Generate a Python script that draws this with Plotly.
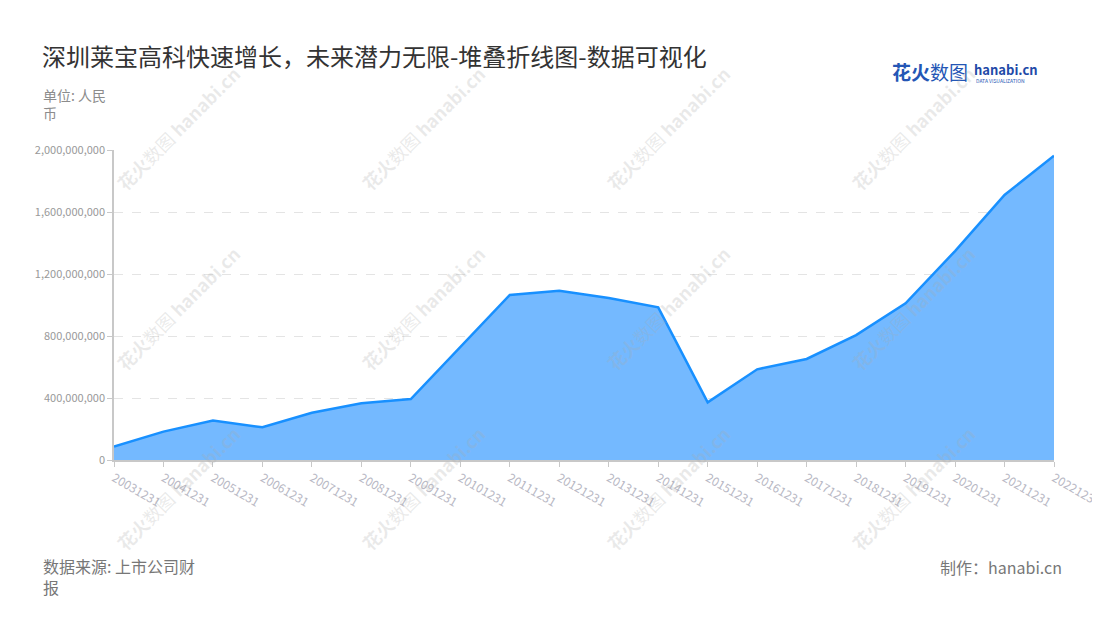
import plotly.graph_objects as go

# 年报日期 & 数值 (人民币)
dates = ['20031231', '20041231', '20051231', '20061231', '20071231',
         '20081231', '20091231', '20101231', '20111231', '20121231',
         '20131231', '20141231', '20151231', '20161231', '20171231',
         '20181231', '20191231', '20201231', '20211231', '20221231']
values = [86e6, 183e6, 254e6, 211e6, 305e6,
          366e6, 393e6, 730e6, 1065e6, 1092e6,
          1045e6, 985e6, 372e6, 585e6, 652e6,
          806e6, 1011e6, 1348e6, 1710e6, 1963e6]

y_ticks = [0, 400e6, 800e6, 1200e6, 1600e6, 2000e6]
y_labels = ['0', '400,000,000', '800,000,000', '1,200,000,000',
            '1,600,000,000', '2,000,000,000']

title = '深圳莱宝高科快速增长，未来潜力无限-堆叠折线图-数据可视化'
font = 'Noto Sans CJK SC, Noto Sans, sans-serif'

W, H = 1100, 620
OFF = 8  # 页面 body 默认留白
# 绘图区在截图中的位置
L, R, T, B = 114, 1054, 150, 460

fig = go.Figure()
fig.add_trace(go.Scatter(
    x=dates, y=values, mode='lines', fill='tozeroy',
    line=dict(color='#1890ff', width=2.5),
    fillcolor='#74b9ff', hoverinfo='x+y'))

fig.update_layout(
    width=W, height=H, autosize=False,
    margin=dict(l=L - OFF, r=W - R + OFF, t=T - OFF, b=H - B + OFF, autoexpand=False),
    paper_bgcolor='white', plot_bgcolor='white',
    font=dict(family=font),
    showlegend=False,
    xaxis=dict(type='category', showline=True, linecolor='#c8c8c8', linewidth=1.5,
               ticks='outside', tickcolor='#c8c8c8', ticklen=5,
               tickangle=30, tickfont=dict(size=12, color='#b8b8c4'),
               showgrid=False, range=[0, len(dates) - 1], zeroline=False),
    yaxis=dict(range=[0, 2000e6], tickvals=y_ticks, ticktext=y_labels,
               showline=True, linecolor='#c8c8c8', linewidth=1.5,
               ticks='outside', tickcolor='#c8c8c8', ticklen=5,
               tickfont=dict(size=11, color='#999999'),
               showgrid=True, gridcolor='#e4e4e4', griddash='dash',
               zeroline=False),
)

# 文本位置按截图像素给出，再换算为绘图区 paper 坐标
def px(x, y):
    return (x - L) / (R - L), (B - y) / (B - T)

ann = []
ann.append(dict(text=title, pos=(40, 55), xanchor='left', yanchor='middle',
                font=dict(size=24, color='#333333')))
ann.append(dict(text='单位: 人民<br>币', pos=(41, 83), xanchor='left', yanchor='top',
                align='left', font=dict(size=14, color='#8c8c8c')))
ann.append(dict(text='数据来源: 上市公司财<br>报', pos=(41, 552), xanchor='left',
                yanchor='top', align='left', font=dict(size=16, color='#777777')))
ann.append(dict(text='制作：hanabi.cn', pos=(1064, 567), xanchor='right',
                yanchor='middle', font=dict(size=16, color='#777777')))

# logo
ann.append(dict(text='<b>花火</b>数图', pos=(890, 72), xanchor='left',
                yanchor='middle', font=dict(size=19, color='#2456b5')))
ann.append(dict(text='<b>hanabi.cn</b>', pos=(972, 69), xanchor='left',
                yanchor='middle', font=dict(size=13, color='#1f4aa8')))
ann.append(dict(text='DATA VISUALIZATION', pos=(974, 80), xanchor='left',
                yanchor='middle', font=dict(size=5, color='#2456b5')))

# 水印
for cx in [178, 423, 668, 913]:
    for cy in [128, 308, 488]:
        ann.append(dict(text='<b>花火</b>数图 <b>hanabi.cn</b>', pos=(cx, cy),
                        xanchor='center', yanchor='middle', textangle=-45,
                        font=dict(size=18, color='rgba(170,170,170,0.25)')))

for a in ann:
    x, y = px(*a.pop('pos'))
    fig.add_annotation(x=x, y=y, xref='paper', yref='paper', showarrow=False, **a)

fig.write_html("out.html")
